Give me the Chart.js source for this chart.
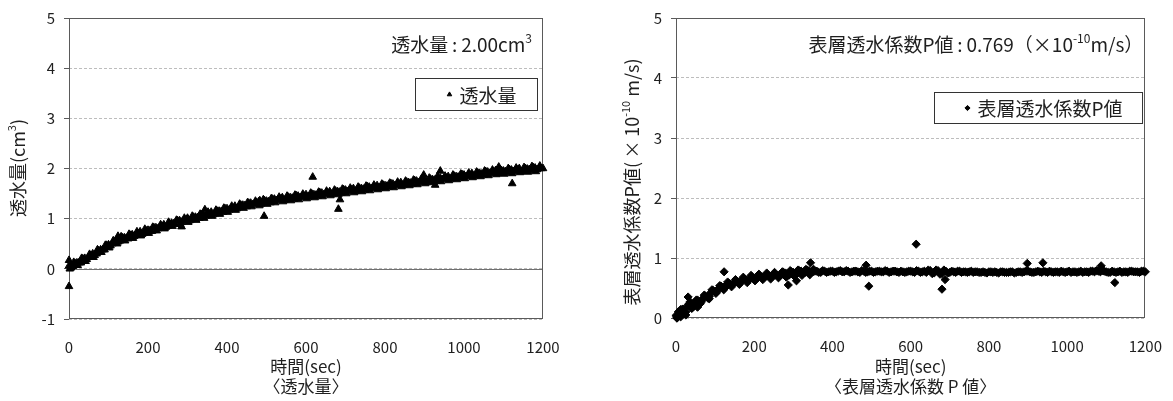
<!DOCTYPE html>
<html lang="ja">
<head>
<meta charset="utf-8">
<script src="https://cdn.jsdelivr.net/npm/chart.js@4.4.1/dist/chart.umd.min.js"></script>
<style>
  html, body { margin: 0; padding: 0; background: #fff; }
  #wrap { position: relative; width: 1173px; height: 401px; }
  #volChart { position: absolute; left: 0; top: 0; }
  #pChart { position: absolute; left: 580px; top: 0; }
</style>
</head>
<body>
<div id="wrap">
  <canvas id="volChart" width="580" height="401"></canvas>
  <canvas id="pChart" width="593" height="401"></canvas>
</div>
<script>
// 経過時間 (sec) 10秒ごと
const timeSec = [
  0, 10, 20, 30, 40, 50, 60, 70, 80, 90,
  100, 110, 120, 130, 140, 150, 160, 170, 180, 190,
  200, 210, 220, 230, 240, 250, 260, 270, 280, 290,
  300, 310, 320, 330, 340, 350, 360, 370, 380, 390,
  400, 410, 420, 430, 440, 450, 460, 470, 480, 490,
  500, 510, 520, 530, 540, 550, 560, 570, 580, 590,
  600, 610, 620, 630, 640, 650, 660, 670, 680, 690,
  700, 710, 720, 730, 740, 750, 760, 770, 780, 790,
  800, 810, 820, 830, 840, 850, 860, 870, 880, 890,
  900, 910, 920, 930, 940, 950, 960, 970, 980, 990,
  1000, 1010, 1020, 1030, 1040, 1050, 1060, 1070, 1080, 1090,
  1100, 1110, 1120, 1130, 1140, 1150, 1160, 1170, 1180, 1190,
  1200
];
// 中間時刻 (sec)
const midSec = [
  5, 15, 25, 35, 45, 55, 65, 75, 85, 95,
  105, 115, 125, 135, 145, 155, 165, 175, 185, 195,
  205, 215, 225, 235, 245, 255, 265, 275, 285, 295,
  305, 315, 325, 335, 345, 355, 365, 375, 385, 395,
  405, 415, 425, 435, 445, 455, 465, 475, 485, 495,
  505, 515, 525, 535, 545, 555, 565, 575, 585, 595,
  605, 615, 625, 635, 645, 655, 665, 675, 685, 695,
  705, 715, 725, 735, 745, 755, 765, 775, 785, 795,
  805, 815, 825, 835, 845, 855, 865, 875, 885, 895,
  905, 915, 925, 935, 945, 955, 965, 975, 985, 995,
  1005, 1015, 1025, 1035, 1045, 1055, 1065, 1075, 1085, 1095,
  1105, 1115, 1125, 1135, 1145, 1155, 1165, 1175, 1185, 1195
];
// ばらつき上側・下側の時刻 (sec)
const highSec = [
  12, 32, 52, 72, 92, 112, 132, 152, 172, 192,
  212, 232, 252, 272, 292, 312, 332, 352, 372, 392,
  412, 432, 452, 472, 492, 512, 532, 552, 572, 592,
  612, 632, 652, 672, 692, 712, 732, 752, 772, 792,
  812, 832, 852, 872, 892, 912, 932, 952, 972, 992,
  1012, 1032, 1052, 1072, 1092, 1112, 1132, 1152, 1172, 1192
];
const lowSec = [
  2, 22, 42, 62, 82, 102, 122, 142, 162, 182,
  202, 222, 242, 262, 282, 302, 322, 342, 362, 382,
  402, 422, 442, 462, 482, 502, 522, 542, 562, 582,
  602, 622, 642, 662, 682, 702, 722, 742, 762, 782,
  802, 822, 842, 862, 882, 902, 922, 942, 962, 982,
  1002, 1022, 1042, 1062, 1082, 1102, 1122, 1142, 1162, 1182
];

// 透水量 (cm3)
const volume = [
  0.06, 0.05, 0.12, 0.12, 0.21, 0.23, 0.30, 0.30, 0.38, 0.38,
  0.48, 0.50, 0.58, 0.56, 0.62, 0.60, 0.68, 0.68, 0.74, 0.71,
  0.77, 0.75, 0.82, 0.83, 0.88, 0.85, 0.91, 0.89, 0.96, 0.96,
  1.01, 0.98, 1.03, 1.01, 1.08, 1.08, 1.13, 1.10, 1.15, 1.13,
  1.20, 1.20, 1.25, 1.22, 1.27, 1.24, 1.31, 1.30, 1.34, 1.31,
  1.35, 1.32, 1.39, 1.38, 1.42, 1.38, 1.42, 1.39, 1.45, 1.44,
  1.48, 1.44, 1.48, 1.45, 1.51, 1.50, 1.54, 1.50, 1.54, 1.51,
  1.57, 1.56, 1.60, 1.56, 1.60, 1.57, 1.63, 1.62, 1.66, 1.62,
  1.66, 1.63, 1.69, 1.68, 1.72, 1.68, 1.72, 1.69, 1.75, 1.74,
  1.78, 1.74, 1.78, 1.75, 1.81, 1.80, 1.84, 1.80, 1.84, 1.81,
  1.87, 1.86, 1.90, 1.86, 1.90, 1.87, 1.93, 1.92, 1.96, 1.91,
  1.95, 1.92, 1.97, 1.96, 2.00, 1.95, 1.99, 1.96, 2.01, 2.00,
  2.00
];
const volumeMid = [
  0.02, 0.11, 0.12, 0.20, 0.19, 0.25, 0.27, 0.36, 0.38, 0.47,
  0.46, 0.53, 0.54, 0.62, 0.61, 0.67, 0.65, 0.70, 0.69, 0.76,
  0.76, 0.82, 0.80, 0.84, 0.83, 0.90, 0.90, 0.96, 0.93, 0.97,
  0.96, 1.03, 1.02, 1.08, 1.05, 1.09, 1.08, 1.15, 1.14, 1.20,
  1.17, 1.21, 1.20, 1.27, 1.26, 1.31, 1.28, 1.31, 1.29, 1.36,
  1.34, 1.39, 1.36, 1.39, 1.37, 1.43, 1.41, 1.46, 1.42, 1.45,
  1.43, 1.49, 1.47, 1.52, 1.48, 1.51, 1.49, 1.55, 1.53, 1.58,
  1.54, 1.57, 1.55, 1.61, 1.59, 1.64, 1.60, 1.63, 1.61, 1.67,
  1.65, 1.70, 1.66, 1.69, 1.67, 1.73, 1.71, 1.76, 1.72, 1.75,
  1.73, 1.79, 1.77, 1.82, 1.78, 1.81, 1.79, 1.85, 1.83, 1.88,
  1.84, 1.87, 1.85, 1.91, 1.89, 1.94, 1.90, 1.93, 1.90, 1.96,
  1.94, 1.98, 1.94, 1.97, 1.94, 2.00, 1.98, 2.02, 1.98, 2.00
];
const volumeHigh = [
  0.13, 0.21, 0.29, 0.38, 0.47, 0.56, 0.64, 0.69, 0.74, 0.79,
  0.83, 0.88, 0.93, 0.97, 1.01, 1.05, 1.09, 1.13, 1.17, 1.21,
  1.25, 1.29, 1.32, 1.35, 1.38, 1.40, 1.43, 1.45, 1.47, 1.49,
  1.51, 1.53, 1.55, 1.57, 1.59, 1.61, 1.63, 1.65, 1.67, 1.69,
  1.71, 1.73, 1.75, 1.77, 1.79, 1.81, 1.83, 1.85, 1.87, 1.89,
  1.91, 1.93, 1.95, 1.97, 1.98, 2.00, 2.01, 2.02, 2.04, 2.05
];
const volumeLow = [
  0.00, 0.07, 0.15, 0.23, 0.33, 0.42, 0.50, 0.56, 0.61, 0.66,
  0.71, 0.76, 0.80, 0.85, 0.89, 0.93, 0.97, 1.01, 1.05, 1.09,
  1.13, 1.17, 1.21, 1.24, 1.26, 1.29, 1.32, 1.34, 1.36, 1.38,
  1.40, 1.42, 1.44, 1.46, 1.48, 1.50, 1.52, 1.54, 1.56, 1.58,
  1.60, 1.62, 1.64, 1.66, 1.68, 1.70, 1.72, 1.74, 1.76, 1.78,
  1.80, 1.82, 1.84, 1.86, 1.88, 1.89, 1.90, 1.92, 1.93, 1.94
];
// 透水量の外れ値
const volumeOutTime  = [0, 0, 124, 285, 344, 483, 494, 617, 682, 686, 898, 927, 940, 1088, 1122];
const volumeOutValue = [0.17, -0.35, 0.65, 0.84, 1.18, 1.36, 1.05, 1.83, 1.19, 1.38, 1.87, 1.67, 1.95, 2.03, 1.70];

// 表層透水係数P値 (×10^-10 m/s)
const pValue = [
  0.04, 0.12, 0.07, 0.20, 0.16, 0.27, 0.26, 0.33, 0.36, 0.43,
  0.44, 0.50, 0.51, 0.56, 0.56, 0.60, 0.60, 0.63, 0.63, 0.66,
  0.66, 0.68, 0.68, 0.70, 0.69, 0.71, 0.71, 0.73, 0.75, 0.72,
  0.76, 0.74, 0.78, 0.76, 0.79, 0.77, 0.78, 0.76, 0.78, 0.77,
  0.78, 0.77, 0.79, 0.77, 0.78, 0.77, 0.78, 0.76, 0.78, 0.77,
  0.78, 0.77, 0.78, 0.77, 0.78, 0.77, 0.78, 0.76, 0.77, 0.77,
  0.78, 0.76, 0.78, 0.77, 0.76, 0.79, 0.75, 0.79, 0.74, 0.78,
  0.76, 0.77, 0.78, 0.76, 0.77, 0.77, 0.76, 0.77, 0.76, 0.76,
  0.77, 0.76, 0.76, 0.77, 0.76, 0.76, 0.77, 0.76, 0.77, 0.77,
  0.78, 0.76, 0.77, 0.77, 0.78, 0.76, 0.77, 0.77, 0.76, 0.77,
  0.77, 0.76, 0.77, 0.77, 0.76, 0.77, 0.78, 0.77, 0.78, 0.79,
  0.77, 0.76, 0.77, 0.77, 0.76, 0.77, 0.78, 0.77, 0.77, 0.78,
  0.77
];
const pMid = [
  0.02, 0.14, 0.10, 0.24, 0.19, 0.30, 0.27, 0.37, 0.36, 0.46,
  0.44, 0.53, 0.50, 0.58, 0.56, 0.61, 0.60, 0.65, 0.63, 0.68,
  0.66, 0.70, 0.68, 0.71, 0.69, 0.72, 0.70, 0.76, 0.71, 0.77,
  0.73, 0.79, 0.74, 0.80, 0.76, 0.78, 0.76, 0.79, 0.76, 0.78,
  0.76, 0.78, 0.77, 0.79, 0.76, 0.78, 0.77, 0.79, 0.76, 0.78,
  0.76, 0.78, 0.77, 0.79, 0.76, 0.78, 0.77, 0.78, 0.76, 0.78,
  0.77, 0.79, 0.76, 0.78, 0.80, 0.74, 0.80, 0.73, 0.80, 0.75,
  0.78, 0.76, 0.78, 0.77, 0.76, 0.78, 0.77, 0.76, 0.77, 0.75,
  0.77, 0.77, 0.75, 0.77, 0.76, 0.77, 0.75, 0.77, 0.76, 0.78,
  0.77, 0.76, 0.78, 0.76, 0.77, 0.78, 0.76, 0.77, 0.78, 0.76,
  0.78, 0.77, 0.76, 0.78, 0.77, 0.76, 0.78, 0.79, 0.77, 0.78,
  0.76, 0.78, 0.76, 0.78, 0.77, 0.76, 0.78, 0.77, 0.76, 0.78
];
// 立ち上がり部（0〜350秒）のばらつき上側・下側
const pHigh = [0.14, 0.23, 0.30, 0.38, 0.47, 0.54, 0.60, 0.64, 0.68, 0.71, 0.73, 0.75, 0.76, 0.77, 0.79, 0.80, 0.81, 0.81];
const pLow  = [0.00, 0.08, 0.17, 0.24, 0.33, 0.41, 0.47, 0.52, 0.56, 0.59, 0.62, 0.64, 0.65, 0.67, 0.68, 0.70, 0.71, 0.72];
// 初期のばらつき点と外れ値
const pOutTime  = [3, 6, 12, 18, 25, 31, 36, 45, 55, 65, 85, 123, 287, 308, 344, 486, 493, 614, 680, 688, 898, 938, 1087, 1122];
const pOutValue = [0.00, 0.10, 0.02, 0.15, 0.05, 0.35, 0.27, 0.22, 0.18, 0.30, 0.32, 0.77, 0.55, 0.62, 0.92, 0.88, 0.53, 1.23, 0.48, 0.64, 0.91, 0.92, 0.87, 0.59];

const xTicks = [0, 200, 400, 600, 800, 1000, 1200];

const FONT = '"Noto Sans CJK JP", "Noto Sans", sans-serif';
const TEXT = '#1f1f1f';

function toPoints(xs, ys) {
  return ys.map((y, i) => ({ x: xs[i], y: y }));
}

// 上付き文字を含む文字列を描く
function partsWidth(ctx, parts, size, supSize) {
  return parts.map(p => {
    ctx.font = (p.sup ? supSize : size) + 'px ' + FONT;
    return ctx.measureText(p.t).width;
  });
}
function drawParts(ctx, parts, x, y, size, supSize, widths) {
  parts.forEach((p, i) => {
    ctx.font = (p.sup ? supSize : size) + 'px ' + FONT;
    ctx.fillText(p.t, x, p.sup ? y - size * 0.32 : y);
    x += widths[i];
  });
}

// 枠線・0線・軸タイトル・注記・凡例
const panelPlugin = {
  id: 'panel',
  beforeDatasetsDraw(chart, args, opts) {
    const { ctx, chartArea: a, scales } = chart;
    ctx.save();
    ctx.lineWidth = 1;
    if (opts.zeroLine) {
      const y0 = Math.round(scales.y.getPixelForValue(0)) + 0.5;
      ctx.strokeStyle = '#707070';
      ctx.beginPath();
      ctx.moveTo(a.left, y0);
      ctx.lineTo(a.right, y0);
      ctx.stroke();
    }
    ctx.strokeStyle = '#5a5a5a';
    ctx.strokeRect(Math.round(a.left) + 0.5, Math.round(a.top) + 0.5,
      Math.round(a.width) - 1, Math.round(a.height) - 1);
    ctx.restore();
  },
  afterDraw(chart, args, opts) {
    const { ctx, chartArea: a } = chart;
    ctx.save();
    ctx.fillStyle = TEXT;
    ctx.textBaseline = 'middle';

    // 縦軸タイトル（回転）
    const yt = opts.yTitle;
    const ytw = partsWidth(ctx, yt.parts, 18, 11);
    ctx.save();
    ctx.translate(yt.x, yt.y);
    ctx.rotate(-Math.PI / 2);
    drawParts(ctx, yt.parts, -ytw.reduce((s, w) => s + w, 0) / 2, 0, 18, 11, ytw);
    ctx.restore();

    // 注記（右寄せ）
    const size = 19;
    const nw = partsWidth(ctx, opts.note, size, 12);
    const nx = a.right - opts.noteRight - nw.reduce((s, w) => s + w, 0);
    drawParts(ctx, opts.note, nx, opts.noteY, size, 12, nw);

    // 凡例
    const lg = opts.legend;
    ctx.font = size + 'px ' + FONT;
    const tw = ctx.measureText(lg.text).width;
    const bw = lg.padL + lg.gap + tw + lg.padR;
    const bx = Math.round(a.right - lg.right - bw) + 0.5;
    const by = Math.round(a.top + lg.top) + 0.5;
    ctx.fillStyle = '#fff';
    ctx.fillRect(bx, by, bw, lg.h);
    ctx.strokeStyle = '#333';
    ctx.lineWidth = 1;
    ctx.strokeRect(bx, by, bw, lg.h);
    ctx.fillStyle = '#000';
    ctx.strokeStyle = '#000';
    Chart.helpers.drawPoint(ctx, { pointStyle: lg.style, radius: 2.6, rotation: 0, borderWidth: 1 },
      bx + lg.padL, by + lg.h / 2);
    ctx.fillStyle = TEXT;
    ctx.fillText(lg.text, bx + lg.padL + lg.gap, by + lg.h / 2 + 1);
    ctx.restore();
  }
};

function makeChart(id, cfg) {
  return new Chart(document.getElementById(id), {
    type: 'scatter',
    data: {
      datasets: [{
        label: cfg.label,
        data: cfg.points,
        pointStyle: cfg.style,
        pointRadius: cfg.radius,
        pointBackgroundColor: '#000',
        pointBorderColor: '#000',
        pointBorderWidth: 1,
        clip: 8
      }]
    },
    options: {
      responsive: false,
      animation: false,
      events: [],
      layout: { padding: { top: 18, right: cfg.padRight, left: 0, bottom: 0 } },
      plugins: {
        legend: { display: false },
        tooltip: { enabled: false },
        panel: cfg.panel
      },
      scales: {
        x: {
          type: 'linear',
          min: 0,
          max: 1200,
          afterBuildTicks: s => { s.ticks = xTicks.map(v => ({ value: v })); },
          ticks: {
            padding: 11,
            color: TEXT,
            font: { family: FONT, size: 15 },
            callback: v => String(v)
          },
          grid: { display: false },
          border: { display: false },
          title: {
            display: true,
            text: cfg.xTitle,
            color: TEXT,
            font: { family: FONT, size: 17, lineHeight: 1.18 },
            padding: { top: 0, bottom: 4 }
          },
          afterFit: s => { s.height = cfg.xHeight; }
        },
        y: {
          min: cfg.yMin,
          max: 5,
          ticks: { stepSize: 1, padding: 9, color: TEXT, font: { family: FONT, size: 15 } },
          grid: {
            color: '#bdbdbd',
            tickLength: 5,
            tickColor: '#5a5a5a',
            tickBorderDash: []
          },
          border: { display: false, dash: [3, 2] },
          title: { display: false },
          afterFit: s => { s.width = cfg.yWidth; }
        }
      }
    },
    plugins: [panelPlugin]
  });
}

makeChart('volChart', {
  label: '透水量',
  style: 'triangle',
  radius: 4.4,
  points: toPoints(timeSec, volume)
    .concat(toPoints(midSec, volumeMid))
    .concat(toPoints(highSec, volumeHigh))
    .concat(toPoints(lowSec, volumeLow))
    .concat(toPoints(volumeOutTime, volumeOutValue)),
  yMin: -1,
  yWidth: 69,
  padRight: 37,
  xHeight: 82,
  xTitle: ['時間(sec)', '〈透水量〉'],
  panel: {
    zeroLine: true,
    yTitle: { x: 18, y: 168, parts: [{ t: '透水量(cm' }, { t: '3', sup: true }, { t: ')' }] },
    noteRight: 11,
    noteY: 45,
    note: [{ t: '透水量\u2009:\u20092.00cm' }, { t: '3', sup: true }],
    legend: { text: '透水量', style: 'triangle', right: 6, top: 60, h: 32, padL: 34, gap: 10, padR: 21 }
  }
});

makeChart('pChart', {
  label: '表層透水係数P値',
  style: 'rectRot',
  radius: 4.1,
  points: toPoints(timeSec, pValue)
    .concat(toPoints(midSec, pMid))
    .concat(toPoints(highSec, pHigh))
    .concat(toPoints(lowSec, pLow))
    .concat(toPoints(pOutTime, pOutValue)),
  yMin: 0,
  yWidth: 96,
  padRight: 20,
  xHeight: 83,
  xTitle: ['時間(sec)', '〈表層透水係数 P 値〉'],
  panel: {
    zeroLine: false,
    yTitle: { x: 52, y: 182, parts: [{ t: '表層透水係数P値(\u2009×\u200910' }, { t: '-10', sup: true }, { t: ' m/s)' }] },
    noteRight: 2,
    noteY: 45,
    note: [{ t: '表層透水係数P値\u2009:\u20090.769（×10' }, { t: '-10', sup: true }, { t: 'm/s）' }],
    legend: { text: '表層透水係数P値', style: 'rectRot', right: 3, top: 74, h: 31, padL: 33, gap: 10, padR: 20 }
  }
});
</script>
</body>
</html>
